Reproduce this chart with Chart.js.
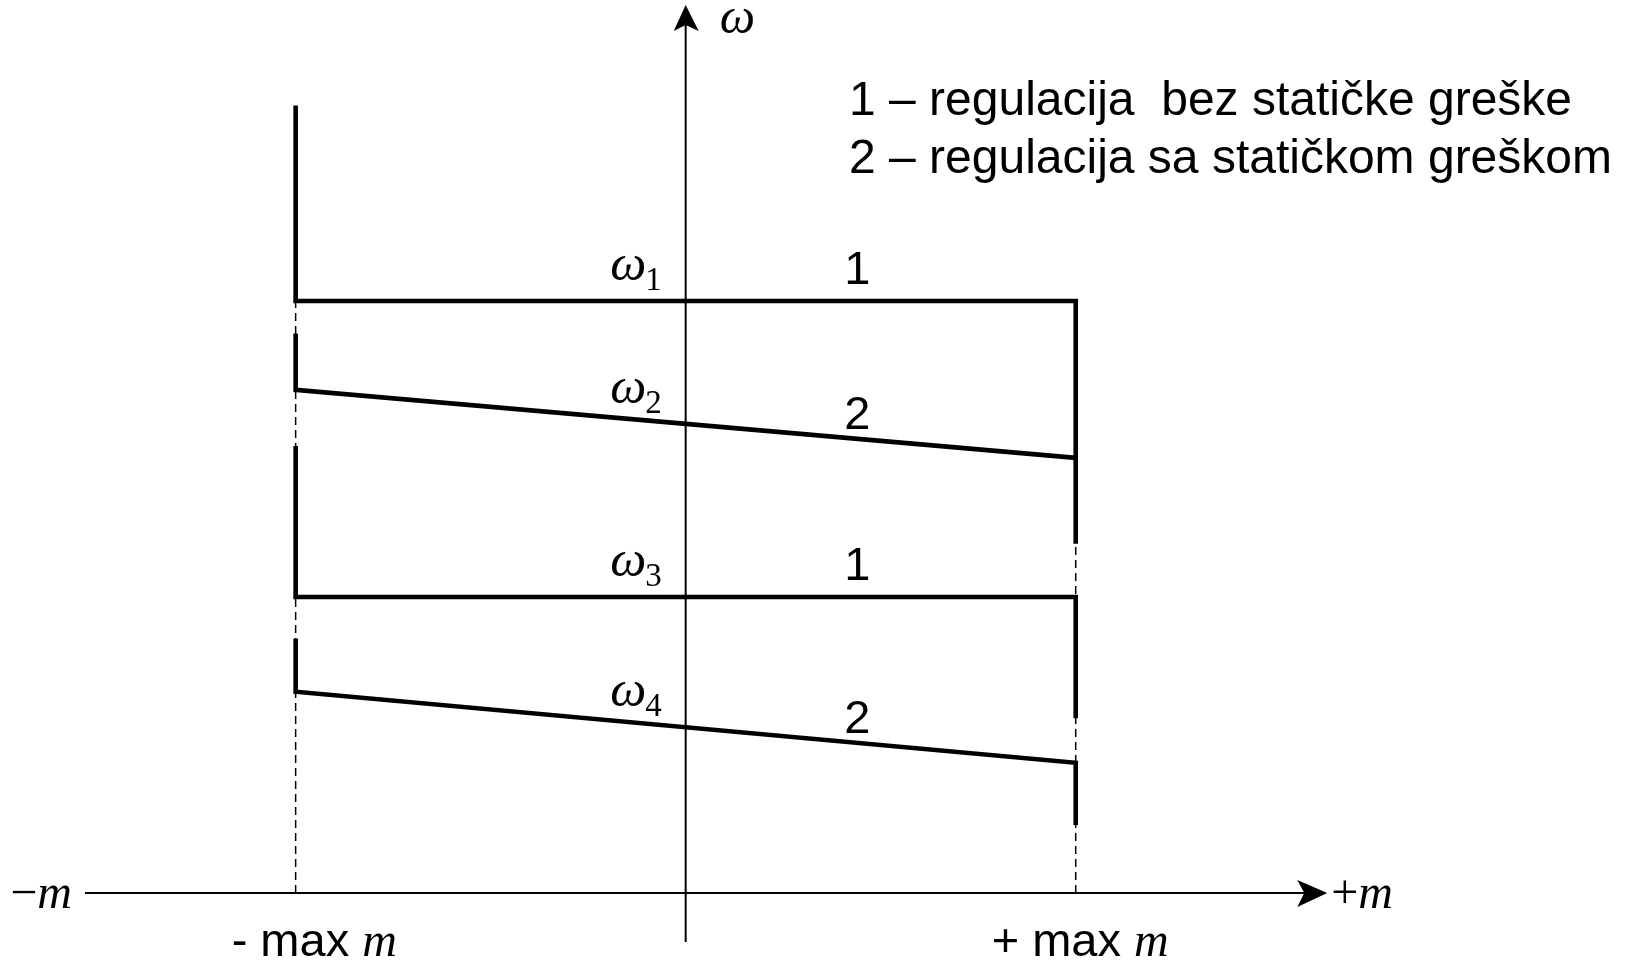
<!DOCTYPE html>
<html>
<head>
<meta charset="utf-8">
<script src="https://cdn.jsdelivr.net/npm/chart.js@4.4.0/dist/chart.umd.min.js"></script>
<style>
  html, body { margin: 0; padding: 0; background: #fff; }
  #wrap { width: 1628px; height: 961px; }
</style>
</head>
<body>
<div id="wrap"><canvas id="chart" width="1628" height="961"></canvas></div>
<script>
// torque limits (-max m, +max m) and speed along each characteristic
const torqueLimits = [-1, 1];
const curveNames = ["ω1", "ω2", "ω3", "ω4"];
const curveKind = ["1", "2", "1", "2"];
const leftTop = [133, 94.5, 75.5, 43];
const atMinusMax = [100, 85, 50, 34];
const atPlusMax = [100, 73.5, 50, 22];
const rightBottom = [59, 73.5, 29.5, 11.5];
const dashTop = 100;

const legendLines = [
    "1 – regulacija  bez statičke greške",
    "2 – regulacija sa statičkom greškom"
];
const limitLabels = ["- max ", "+ max "];
const mAxisRange = [-1.54, 1.645];
const wAxisRange = [-8.3, 150];
const numberAt = 0.44;   // torque where the "1"/"2" marks sit

const SANS = '"Liberation Sans", Arial, sans-serif';
const SERIF = '"Liberation Serif", "Times New Roman", serif';

const datasets = [];

// axes
datasets.push({
    data: [{ x: mAxisRange[0], y: 0 }, { x: mAxisRange[1] - 0.05, y: 0 }],
    borderColor: "#000", borderWidth: 2, order: 3
});
datasets.push({
    data: [{ x: 0, y: wAxisRange[0] }, { x: 0, y: wAxisRange[1] - 3 }],
    borderColor: "#000", borderWidth: 2, order: 3
});

// dashed guides at +-max m
torqueLimits.forEach(m => {
    datasets.push({
        data: [{ x: m, y: 0 }, { x: m, y: dashTop }],
        borderColor: "#000", borderWidth: 1.5, borderDash: [8, 5], order: 2
    });
});

// characteristics
curveNames.forEach((name, i) => {
    datasets.push({
        data: [
            { x: torqueLimits[0], y: leftTop[i] },
            { x: torqueLimits[0], y: atMinusMax[i] },
            { x: torqueLimits[1], y: atPlusMax[i] },
            { x: torqueLimits[1], y: rightBottom[i] }
        ],
        borderColor: "#000", borderWidth: 4.6, borderJoinStyle: "miter", order: 1
    });
});

const labelsPlugin = {
    id: "labels",
    afterDatasetsDraw(chart) {
        const ctx = chart.ctx;
        const sx = chart.scales.x, sy = chart.scales.y;
        const X = v => sx.getPixelForValue(v);
        const Y = v => sy.getPixelForValue(v);
        ctx.save();
        ctx.fillStyle = "#000";

        // arrow heads
        const vx = X(0), vy = Y(wAxisRange[1]);
        ctx.beginPath();
        ctx.moveTo(vx, vy);
        ctx.lineTo(vx + 13, vy + 26);
        ctx.lineTo(vx, vy + 20);
        ctx.lineTo(vx - 12, vy + 26);
        ctx.closePath();
        ctx.fill();

        const hx = X(mAxisRange[1]), hy = Y(0);
        ctx.beginPath();
        ctx.moveTo(hx, hy);
        ctx.lineTo(hx - 30, hy + 14);
        ctx.lineTo(hx - 23, hy);
        ctx.lineTo(hx - 30, hy - 13);
        ctx.closePath();
        ctx.fill();

        ctx.textBaseline = "alphabetic";

        // axis names
        ctx.font = "italic 50px " + SERIF;
        ctx.textAlign = "left";
        ctx.fillText("ω", vx + 34, vy + 28);

        const minus = "−";
        ctx.font = "48px " + SERIF;
        const minusW = ctx.measureText(minus).width;
        ctx.font = "italic 48px " + SERIF;
        const mW = ctx.measureText("m").width;
        let lx = X(mAxisRange[0]) - 13 - mW - minusW;
        ctx.font = "48px " + SERIF;
        ctx.fillText(minus, lx, hy + 15);
        ctx.font = "italic 48px " + SERIF;
        ctx.fillText("m", lx + minusW, hy + 15);

        ctx.font = "48px " + SERIF;
        ctx.fillText("+", hx + 4, hy + 15);
        const plusW = ctx.measureText("+").width;
        ctx.font = "italic 48px " + SERIF;
        ctx.fillText("m", hx + 4 + plusW, hy + 15);

        // -max m / +max m
        const limitShift = [-64, -84];
        torqueLimits.forEach((m, k) => {
            const x0 = X(m) + limitShift[k];
            ctx.font = "47px " + SANS;
            ctx.fillText(limitLabels[k], x0, hy + 63);
            const w = ctx.measureText(limitLabels[k]).width;
            ctx.font = "italic 48px " + SERIF;
            ctx.fillText("m", x0 + w, hy + 63);
        });

        // omega labels and curve numbers
        curveNames.forEach((name, i) => {
            const w0 = (atMinusMax[i] + atPlusMax[i]) / 2;
            const base = Y(w0) - 21;
            ctx.font = "33px " + SERIF;
            const sub = name.slice(1);
            const subW = ctx.measureText(sub).width;
            const subX = vx - 24 - subW;
            ctx.textAlign = "left";
            ctx.fillText(sub, subX, base + 10);
            ctx.font = "italic 51px " + SERIF;
            ctx.textAlign = "right";
            ctx.fillText("ω", subX + 1, base);

            const t = (numberAt - torqueLimits[0]) / (torqueLimits[1] - torqueLimits[0]);
            const wn = atMinusMax[i] + (atPlusMax[i] - atMinusMax[i]) * t;
            const flat = atMinusMax[i] === atPlusMax[i];
            ctx.font = "47px " + SANS;
            ctx.textAlign = "center";
            ctx.fillText(curveKind[i], X(numberAt), Y(wn) - (flat ? 17 : 10));
        });

        // legend text
        ctx.font = "48px " + SANS;
        ctx.textAlign = "left";
        ctx.fillText(legendLines[0], 849, 115);
        ctx.fillText(legendLines[1], 849, 173);

        ctx.restore();
    }
};

const ctx = document.getElementById("chart");
new Chart(ctx, {
    type: "scatter",
    data: { datasets: datasets.map(d => Object.assign({
        showLine: true, pointRadius: 0, pointHoverRadius: 0, fill: false, clip: false,
        borderCapStyle: "butt"
    }, d)) },
    options: {
        responsive: false,
        animation: false,
        events: [],
        layout: { padding: 0 },
        plugins: {
            legend: { display: false },
            tooltip: { enabled: false },
            title: { display: false }
        },
        scales: {
            x: { type: "linear", min: -1.758, max: 2.416, display: false },
            y: { type: "linear", min: -11.49, max: 150.84, display: false }
        }
    },
    plugins: [labelsPlugin]
});
</script>
</body>
</html>
